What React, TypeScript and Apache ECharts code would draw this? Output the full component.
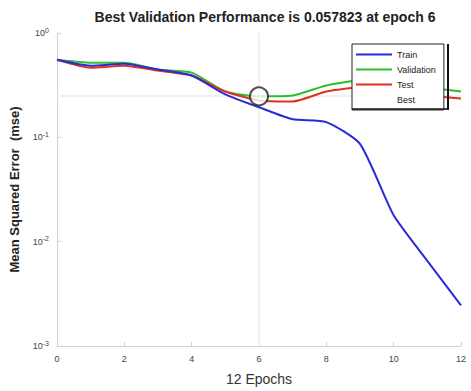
import React, { useEffect, useRef } from "react";
import * as echarts from "echarts";

const epochs = [0, 1, 2, 3, 4, 5, 6, 7, 8, 9, 10, 11, 12];
const trainMse = [0.554, 0.486, 0.508, 0.446, 0.391, 0.258, 0.194, 0.149, 0.14, 0.0865, 0.0179, 0.00655, 0.00245];
const validationMse = [0.554, 0.519, 0.519, 0.446, 0.417, 0.275, 0.247, 0.252, 0.314, 0.35, 0.342, 0.3, 0.275];
const testMse = [0.554, 0.465, 0.486, 0.436, 0.391, 0.275, 0.226, 0.221, 0.275, 0.3, 0.288, 0.252, 0.236];
const bestEpoch = 6;
const bestValue = 0.247;
const xTicks = [0, 2, 4, 6, 8, 10, 12];
const titleText = "Best Validation Performance is 0.057823 at epoch 6";
const xName = "12 Epochs";
const yName = "Mean Squared Error  (mse)";

const pairs = (ys: number[]) => epochs.map((x, i) => [x, ys[i]]);

export default function App() {
  const ref = useRef<HTMLDivElement>(null);
  useEffect(() => {
    if (!ref.current) return;
    const chart = echarts.init(ref.current, null, { renderer: "svg" });
    const font = "Liberation Sans";
    const lineSeries = (name: string, ys: number[], color: string, z: number) => ({
      name,
      type: "line",
      data: pairs(ys),
      symbol: "none",
      smooth: 0.2,
      lineStyle: { color, width: 2 },
      itemStyle: { color },
      z,
    });
    chart.setOption({
      animation: false,
      backgroundColor: "#fff",
      textStyle: { fontFamily: font },
      title: {
        text: titleText,
        left: 260,
        textAlign: "center",
        top: 5,
        textStyle: { fontSize: 14, fontWeight: "bold", color: "#222", fontFamily: font },
      },
      grid: { left: 55, right: 10, top: 33, bottom: 42 },
      legend: {
        orient: "vertical",
        left: 352,
        top: 44,
        itemWidth: 36,
        itemHeight: 2,
        itemGap: 4,
        padding: [5, 8, 5, 4],
        backgroundColor: "#fff",
        borderColor: "#222",
        borderWidth: 1,
        textStyle: { fontSize: 9, color: "#222", fontFamily: font, lineHeight: 11 },
        data: [
          { name: "Train", icon: "rect" },
          { name: "Validation", icon: "rect" },
          { name: "Test", icon: "rect" },
          { name: "Best", icon: "none" },
        ],
      },
      graphic: [
        { type: "line", shape: { x1: 448, y1: 44, x2: 448, y2: 110 }, style: { stroke: "#111", lineWidth: 2 }, z: 100 },
        { type: "line", shape: { x1: 352, y1: 109, x2: 449, y2: 109 }, style: { stroke: "#111", lineWidth: 1.5 }, z: 100 },
      ],
      xAxis: {
        type: "value",
        min: 0,
        max: 12,
        interval: 2,
        name: xName,
        nameLocation: "middle",
        nameGap: 26,
        nameTextStyle: { fontSize: 14, color: "#333", fontFamily: font },
        axisLine: { show: true, lineStyle: { color: "#d0d0d0" } },
        axisTick: { show: true, inside: true, length: 4, lineStyle: { color: "#d0d0d0" } },
        axisLabel: { fontSize: 9, color: "#444", margin: 8 },
        splitLine: { show: false },
        data: xTicks,
      },
      yAxis: {
        type: "log",
        logBase: 10,
        min: 0.001,
        max: 1,
        name: yName,
        nameLocation: "middle",
        nameGap: 36,
        nameTextStyle: { fontSize: 13, fontWeight: "bold", color: "#222", fontFamily: font },
        axisLine: { show: true, lineStyle: { color: "#d0d0d0" } },
        axisTick: { show: true, inside: true, length: 4, lineStyle: { color: "#d0d0d0" } },
        splitLine: { show: false },
        axisLabel: {
          margin: 8,
          formatter: (v: number) => `{b|10}{s|${Math.round(Math.log10(v))}}`,
          rich: {
            b: { fontSize: 9, color: "#444", fontFamily: font },
            s: { fontSize: 7, color: "#444", verticalAlign: "top", padding: [0, 0, 6, 0], fontFamily: font },
          },
        },
      },
      series: [
        lineSeries("Train", trainMse, "#2a2ad8", 3),
        lineSeries("Validation", validationMse, "#2cbf2c", 2),
        lineSeries("Test", testMse, "#e0321e", 2),
        {
          name: "Best",
          type: "scatter",
          data: [[bestEpoch, bestValue]],
          symbol: "emptyCircle",
          symbolSize: 18,
          itemStyle: { color: "#222", borderColor: "#222", borderWidth: 1.2 },
          z: 4,
          markLine: {
            silent: true,
            symbol: "none",
            label: { show: false },
            lineStyle: { color: "#f0f0f0", width: 2, type: "solid", opacity: 1 },
            emphasis: { disabled: true },
            data: [{ xAxis: bestEpoch }, { yAxis: bestValue }],
            z: 1,
          },
        },
      ],
    });
    return () => chart.dispose();
  }, []);
  return <div ref={ref} style={{ width: 471, height: 391, position: "absolute", left: 0, top: 0 }} />;
}
